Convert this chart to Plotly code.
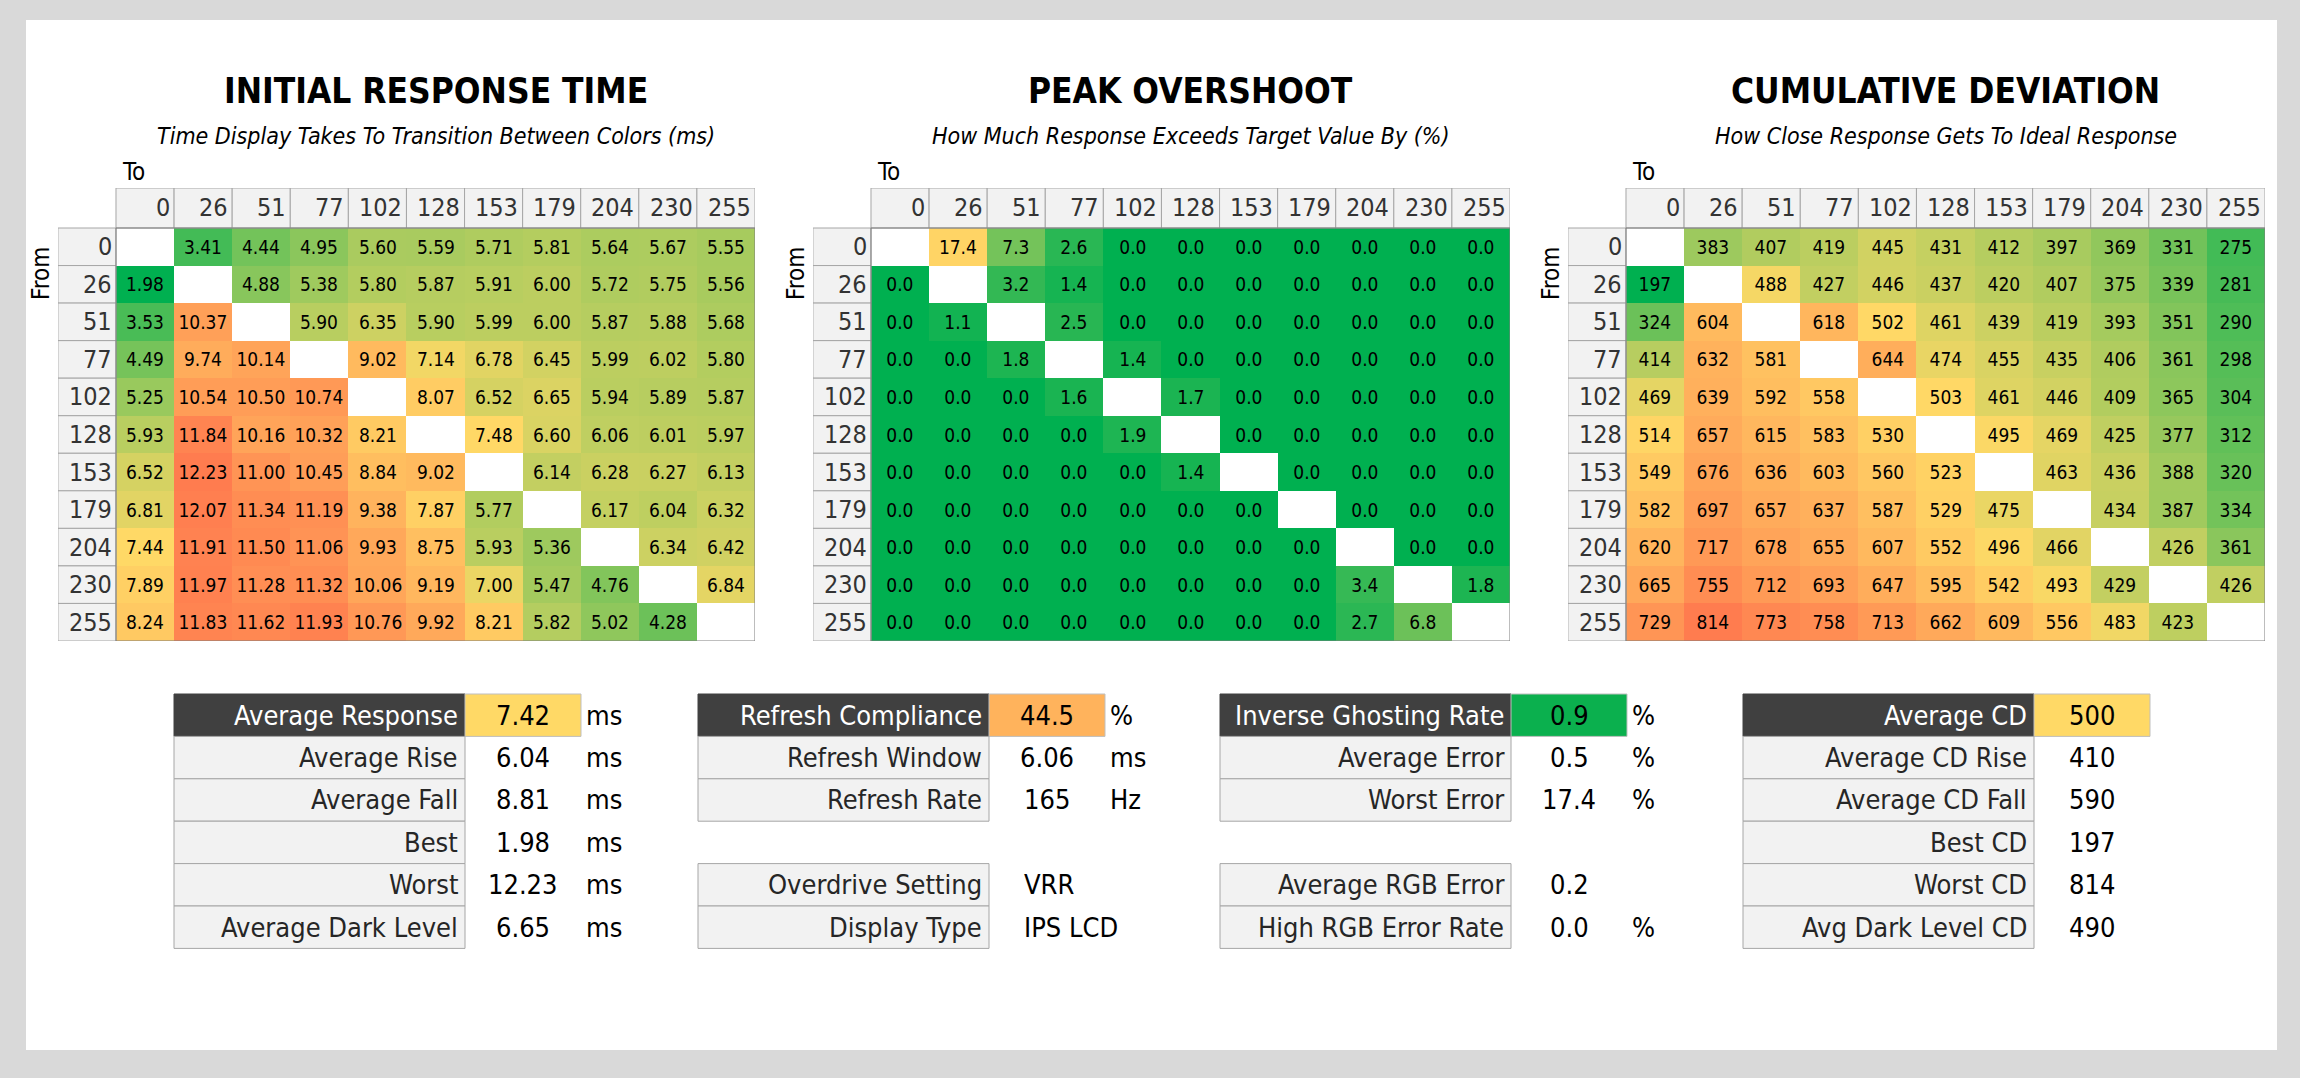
import plotly.graph_objects as go

W, H = 2300, 1078
FONT = "DejaVu Sans Condensed, Roboto, sans-serif"

# ---------------- data ----------------
levels = [0, 26, 51, 77, 102, 128, 153, 179, 204, 230, 255]
N = None

response_ms = [
    [N, 3.41, 4.44, 4.95, 5.60, 5.59, 5.71, 5.81, 5.64, 5.67, 5.55],
    [1.98, N, 4.88, 5.38, 5.80, 5.87, 5.91, 6.00, 5.72, 5.75, 5.56],
    [3.53, 10.37, N, 5.90, 6.35, 5.90, 5.99, 6.00, 5.87, 5.88, 5.68],
    [4.49, 9.74, 10.14, N, 9.02, 7.14, 6.78, 6.45, 5.99, 6.02, 5.80],
    [5.25, 10.54, 10.50, 10.74, N, 8.07, 6.52, 6.65, 5.94, 5.89, 5.87],
    [5.93, 11.84, 10.16, 10.32, 8.21, N, 7.48, 6.60, 6.06, 6.01, 5.97],
    [6.52, 12.23, 11.00, 10.45, 8.84, 9.02, N, 6.14, 6.28, 6.27, 6.13],
    [6.81, 12.07, 11.34, 11.19, 9.38, 7.87, 5.77, N, 6.17, 6.04, 6.32],
    [7.44, 11.91, 11.50, 11.06, 9.93, 8.75, 5.93, 5.36, N, 6.34, 6.42],
    [7.89, 11.97, 11.28, 11.32, 10.06, 9.19, 7.00, 5.47, 4.76, N, 6.84],
    [8.24, 11.83, 11.62, 11.93, 10.76, 9.92, 8.21, 5.82, 5.02, 4.28, N],
]

overshoot_pct = [
    [N, 17.4, 7.3, 2.6, 0.0, 0.0, 0.0, 0.0, 0.0, 0.0, 0.0],
    [0.0, N, 3.2, 1.4, 0.0, 0.0, 0.0, 0.0, 0.0, 0.0, 0.0],
    [0.0, 1.1, N, 2.5, 0.0, 0.0, 0.0, 0.0, 0.0, 0.0, 0.0],
    [0.0, 0.0, 1.8, N, 1.4, 0.0, 0.0, 0.0, 0.0, 0.0, 0.0],
    [0.0, 0.0, 0.0, 1.6, N, 1.7, 0.0, 0.0, 0.0, 0.0, 0.0],
    [0.0, 0.0, 0.0, 0.0, 1.9, N, 0.0, 0.0, 0.0, 0.0, 0.0],
    [0.0, 0.0, 0.0, 0.0, 0.0, 1.4, N, 0.0, 0.0, 0.0, 0.0],
    [0.0, 0.0, 0.0, 0.0, 0.0, 0.0, 0.0, N, 0.0, 0.0, 0.0],
    [0.0, 0.0, 0.0, 0.0, 0.0, 0.0, 0.0, 0.0, N, 0.0, 0.0],
    [0.0, 0.0, 0.0, 0.0, 0.0, 0.0, 0.0, 0.0, 3.4, N, 1.8],
    [0.0, 0.0, 0.0, 0.0, 0.0, 0.0, 0.0, 0.0, 2.7, 6.8, N],
]

cumulative_dev = [
    [N, 383, 407, 419, 445, 431, 412, 397, 369, 331, 275],
    [197, N, 488, 427, 446, 437, 420, 407, 375, 339, 281],
    [324, 604, N, 618, 502, 461, 439, 419, 393, 351, 290],
    [414, 632, 581, N, 644, 474, 455, 435, 406, 361, 298],
    [469, 639, 592, 558, N, 503, 461, 446, 409, 365, 304],
    [514, 657, 615, 583, 530, N, 495, 469, 425, 377, 312],
    [549, 676, 636, 603, 560, 523, N, 463, 436, 388, 320],
    [582, 697, 657, 637, 587, 529, 475, N, 434, 387, 334],
    [620, 717, 678, 655, 607, 552, 496, 466, N, 426, 361],
    [665, 755, 712, 693, 647, 595, 542, 493, 429, N, 426],
    [729, 814, 773, 758, 713, 662, 609, 556, 483, 423, N],
]

titles = ["INITIAL RESPONSE TIME", "PEAK OVERSHOOT", "CUMULATIVE DEVIATION"]
subtitles = ["Time Display Takes To Transition Between Colors (ms)",
             "How Much Response Exceeds Target Value By (%)",
             "How Close Response Gets To Ideal Response"]

# stat tables
rt_labels = ["Average Response", "Average Rise", "Average Fall", "Best", "Worst", "Average Dark Level"]
rt_values = ["7.42", "6.04", "8.81", "1.98", "12.23", "6.65"]
rt_units = ["ms", "ms", "ms", "ms", "ms", "ms"]

rf_labels = ["Refresh Compliance", "Refresh Window", "Refresh Rate", "", "Overdrive Setting", "Display Type"]
rf_values = ["44.5", "6.06", "165", "", "VRR", "IPS LCD"]
rf_units = ["%", "ms", "Hz", "", "", ""]

os_labels = ["Inverse Ghosting Rate", "Average Error", "Worst Error", "", "Average RGB Error", "High RGB Error Rate"]
os_values = ["0.9", "0.5", "17.4", "", "0.2", "0.0"]
os_units = ["%", "%", "%", "", "", "%"]

cd_labels = ["Average CD", "Average CD Rise", "Average CD Fall", "Best CD", "Worst CD", "Avg Dark Level CD"]
cd_values = ["500", "410", "590", "197", "814", "490"]
cd_units = ["", "", "", "", "", ""]

highlight_colors = ["#ffd966", "#ffb35c", "#0bb04e", "#ffd966"]

# ---------------- styling / layout constants ----------------
GREEN, YELLOW, RED = "#00b050", "#ffd966", "#ff7c4f"
GRID_LEFT = [116, 871, 1626]
COLW = 639 / 11
HEAD_TOP, DATA_TOP, DATA_BOT = 188, 228, 641
ROWH = (DATA_BOT - DATA_TOP) / 11
HEADH = DATA_TOP - HEAD_TOP


def px(x):
    return x / W


def py(y):
    return 1 - y / H


def flat(m):
    return [v for r in m for v in r if v is not None]


def three_color(lo, mid, hi):
    p = (mid - lo) / (hi - lo)
    return [[0, GREEN], [p, YELLOW], [1, RED]]


def texts(m, fmt):
    return [["" if v is None else fmt.format(v) for v in r] for r in m]


fig = go.Figure()

grids = [
    (response_ms, "{:.2f}", min(flat(response_ms)), float(rt_values[0]), max(flat(response_ms))),
    (overshoot_pct, "{:.1f}", 0.0, 16.0, 40.0),
    (cumulative_dev, "{:.0f}", min(flat(cumulative_dev)), float(cd_values[0]), max(flat(cumulative_dev))),
]

shapes = []
annotations = []

# white panel
shapes.append(dict(type="rect", xref="paper", yref="paper", x0=px(26), x1=px(2277),
                   y0=py(1050), y1=py(20), fillcolor="white", line=dict(width=0), layer="below"))

idx = list(range(len(levels)))
head_y = -0.5 - (HEADH / ROWH) / 2

for g, (data, fmt, lo, mid, hi) in enumerate(grids):
    n = "" if g == 0 else str(g + 1)
    ox = GRID_LEFT[g]
    fig.add_trace(go.Heatmap(
        z=data, x=idx, y=idx, text=texts(data, fmt), texttemplate="%{text}",
        textfont=dict(family=FONT, size=19, color="black"),
        colorscale=three_color(lo, mid, hi), zmin=lo, zmax=hi, showscale=False,
        xaxis="x" + n, yaxis="y" + n, hoverinfo="skip"))
    fig.layout["xaxis" + n] = dict(domain=[px(ox - COLW), px(ox + 11 * COLW)], range=[-1.5, 10.5],
                                   visible=False, fixedrange=True, anchor="y" + n)
    fig.layout["yaxis" + n] = dict(domain=[py(DATA_BOT), py(HEAD_TOP)],
                                   range=[10.5, -0.5 - HEADH / ROWH],
                                   visible=False, fixedrange=True, anchor="x" + n)
    xr, yr = "x" + n, "y" + n
    for i, lev in enumerate(levels):
        # header cells
        shapes.append(dict(type="rect", xref=xr, yref=yr, x0=i - 0.5, x1=i + 0.5,
                           y0=-0.5, y1=-0.5 - HEADH / ROWH, fillcolor="#f2f2f2",
                           line=dict(color="#a6a6a6", width=1)))
        annotations.append(dict(xref=xr, yref=yr, x=i + 0.46, y=head_y, text=str(lev),
                                xanchor="right", yanchor="middle", showarrow=False,
                                font=dict(family=FONT, size=25, color="#333333")))
        # row label cells
        shapes.append(dict(type="rect", xref=xr, yref=yr, x0=-1.5, x1=-0.5,
                           y0=i - 0.5, y1=i + 0.5, fillcolor="#f2f2f2",
                           line=dict(color="#a6a6a6", width=1)))
        annotations.append(dict(xref=xr, yref=yr, x=-0.54, y=i, text=str(lev),
                                xanchor="right", yanchor="middle", showarrow=False,
                                font=dict(family=FONT, size=25, color="#333333")))
    shapes.append(dict(type="rect", xref=xr, yref=yr, x0=-0.5, x1=10.5, y0=-0.5, y1=10.5,
                       line=dict(color="#7f7f7f", width=1), layer="above"))
    # titles
    cx = ox + 5.5 * COLW
    annotations.append(dict(xref="paper", yref="paper", x=px(cx), y=py(91), text=titles[g],
                            xanchor="center", yanchor="middle", showarrow=False,
                            font=dict(family=FONT, size=35, color="black", weight="bold")))
    annotations.append(dict(xref="paper", yref="paper", x=px(cx), y=py(136), text=subtitles[g],
                            xanchor="center", yanchor="middle", showarrow=False,
                            font=dict(family=FONT, size=23, color="black", style="italic")))
    annotations.append(dict(xref="paper", yref="paper", x=px(ox + 4), y=py(172), text="To",
                            xanchor="left", yanchor="middle", showarrow=False,
                            font=dict(family=FONT, size=24, color="black")))
    annotations.append(dict(xref="paper", yref="paper", x=px(ox - COLW - 17), y=py(273), text="From",
                            xanchor="center", yanchor="middle", showarrow=False, textangle=-90,
                            font=dict(family=FONT, size=24, color="black")))

# stat tables
T_LEFT = [174, 698, 1220, 1743]
T_TOP, T_ROWH, LAB_W, VAL_W = 694, 42.4, 291, 116
tables = [(rt_labels, rt_values, rt_units), (rf_labels, rf_values, rf_units),
          (os_labels, os_values, os_units), (cd_labels, cd_values, cd_units)]


def is_num(s):
    try:
        float(s)
        return True
    except ValueError:
        return False


for t, (labs, vals, units) in enumerate(tables):
    L = T_LEFT[t]
    for k, (lab, val, unit) in enumerate(zip(labs, vals, units)):
        if lab == "":
            continue
        y0, y1 = T_TOP + k * T_ROWH, T_TOP + (k + 1) * T_ROWH
        ym = (y0 + y1) / 2
        head = k == 0
        shapes.append(dict(type="rect", xref="paper", yref="paper", x0=px(L), x1=px(L + LAB_W),
                           y0=py(y1), y1=py(y0), fillcolor="#404040" if head else "#f2f2f2",
                           line=dict(color="#404040" if head else "#a6a6a6", width=1)))
        if head:
            shapes.append(dict(type="rect", xref="paper", yref="paper", x0=px(L + LAB_W),
                               x1=px(L + LAB_W + VAL_W), y0=py(y1), y1=py(y0),
                               fillcolor=highlight_colors[t], line=dict(color="#bfbfbf", width=1)))
        annotations.append(dict(xref="paper", yref="paper", x=px(L + LAB_W - 5), y=py(ym), text=lab,
                                xanchor="right", yanchor="middle", showarrow=False,
                                font=dict(family=FONT, size=27, color="white" if head else "#262626")))
        if is_num(val):
            vx, va = L + LAB_W + VAL_W / 2, "center"
        else:
            vx, va = L + LAB_W + 33, "left"
        annotations.append(dict(xref="paper", yref="paper", x=px(vx), y=py(ym), text=val,
                                xanchor=va, yanchor="middle", showarrow=False,
                                font=dict(family=FONT, size=27, color="black")))
        if unit:
            annotations.append(dict(xref="paper", yref="paper", x=px(L + LAB_W + VAL_W + 3), y=py(ym),
                                    text=unit, xanchor="left", yanchor="middle", showarrow=False,
                                    font=dict(family=FONT, size=27, color="black")))

fig.update_layout(width=W, height=H, margin=dict(l=0, r=0, t=0, b=0),
                  paper_bgcolor="#d9d9d9", plot_bgcolor="white",
                  shapes=shapes, annotations=annotations, showlegend=False)

fig.write_html("out.html", config={"displayModeBar": False},
               post_script="document.body.style.margin='0';")
